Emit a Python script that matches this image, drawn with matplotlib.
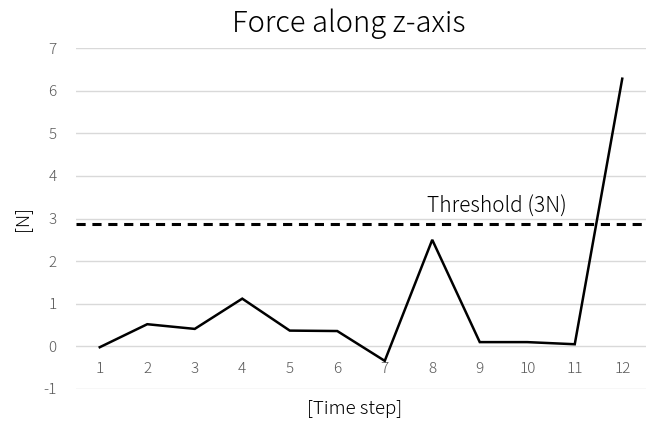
import matplotlib
matplotlib.use("Agg")
import matplotlib.pyplot as plt

time_steps = [1, 2, 3, 4, 5, 6, 7, 8, 9, 10, 11, 12]
force_z = [-0.02, 0.52, 0.41, 1.12, 0.37, 0.36, -0.34, 2.50, 0.10, 0.10, 0.05, 6.28]
threshold = 2.86
y_ticks = [-1, 0, 1, 2, 3, 4, 5, 6, 7]

plt.rcParams['font.family'] = ['Noto Sans CJK JP', 'DejaVu Sans']
plt.rcParams['font.weight'] = 'light'

fig = plt.figure(figsize=(6.65, 4.34), dpi=100)
ax = fig.add_axes([76/665, 1-389/434, 570/665, (389-48)/434])

ax.set_xlim(0.5, 12.5)
ax.set_ylim(-1, 7)
ax.set_yticks(y_ticks)
ax.set_yticklabels([str(t) for t in y_ticks])
ax.yaxis.grid(True, color='#d9d9d9', linewidth=1)
ax.set_axisbelow(True)
for s in ax.spines.values():
    s.set_visible(False)
ax.spines['bottom'].set_position(('data', 0))
ax.set_xticks(time_steps)
ax.set_xticklabels([str(t) for t in time_steps])
ax.tick_params(axis='both', length=0, colors='#595959', labelsize=11)
ax.tick_params(axis='x', pad=11)
ax.tick_params(axis='y', pad=14)

ax.plot(time_steps, force_z, color='black', linewidth=1.8, solid_joinstyle='miter')
ax.axhline(threshold, color='black', linewidth=2.2, linestyle=(0, (3, 2.2)))
ax.text(9.36, threshold + 0.15, 'Threshold (3N)', fontsize=15, color='black',
        ha='center', va='bottom')

fig.text(349/665, 1-24/434, 'Force along z-axis', fontsize=21, ha='center', va='center')
fig.text(22/665, 1-218/434, '[N]', fontsize=13.5, rotation=90, ha='center', va='center')
fig.text(355/665, 1-409/434, '[Time step]', fontsize=13.5, ha='center', va='center')

fig.savefig('out.png', dpi=100, facecolor='white')
